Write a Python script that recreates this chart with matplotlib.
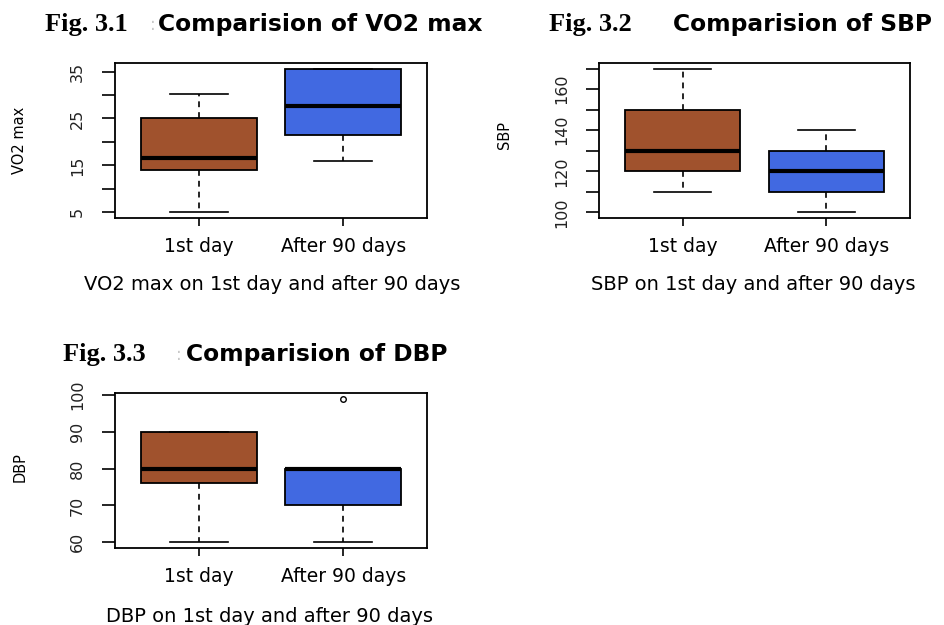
import matplotlib
matplotlib.use("Agg")
import matplotlib.pyplot as plt

# ---------------- data ----------------
groups = ["1st day", "After 90 days"]
colors = ["#A0522D", "#4169E1"]

vo2_whislo = [5, 16]
vo2_q1 = [14, 21.5]
vo2_med = [16.5, 27.7]
vo2_q3 = [25, 35.6]
vo2_whishi = [30.3, 35.6]
vo2_fliers = [[], []]

sbp_whislo = [110, 100]
sbp_q1 = [120, 110]
sbp_med = [130, 120]
sbp_q3 = [150, 130]
sbp_whishi = [170, 140]
sbp_fliers = [[], []]

dbp_whislo = [60, 60]
dbp_q1 = [76, 70]
dbp_med = [80, 80]
dbp_q3 = [90, 80]
dbp_whishi = [90, 80]
dbp_fliers = [[], [99]]

panels = [
    dict(fig="Fig. 3.1", title="Comparision of VO2 max", ylabel="VO2 max",
         xlabel="VO2 max on 1st day and after 90 days",
         lo=vo2_whislo, q1=vo2_q1, med=vo2_med, q3=vo2_q3, hi=vo2_whishi, fl=vo2_fliers,
         major=[5, 15, 25, 35], minor=[10, 20, 30]),
    dict(fig="Fig. 3.2", title="Comparision of SBP", ylabel="SBP",
         xlabel="SBP on 1st day and after 90 days",
         lo=sbp_whislo, q1=sbp_q1, med=sbp_med, q3=sbp_q3, hi=sbp_whishi, fl=sbp_fliers,
         major=[100, 120, 140, 160], minor=[110, 130, 150, 170]),
    dict(fig="Fig. 3.3", title="Comparision of DBP", ylabel="DBP",
         xlabel="DBP on 1st day and after 90 days",
         lo=dbp_whislo, q1=dbp_q1, med=dbp_med, q3=dbp_q3, hi=dbp_whishi, fl=dbp_fliers,
         major=[60, 70, 80, 90, 100], minor=[]),
]

# ---------------- layout (pixels) ----------------
W, H = 945, 625
fig = plt.figure(figsize=(W / 100, H / 100), dpi=100)
fig.patch.set_facecolor("white")

# axes boxes: left, right, top, bottom (px)
boxes = [(115, 427, 63, 218), (599, 910, 63, 218), (115, 427, 393, 548)]
# title positions: fig label x, colon x, comparision x, y center
titles = [(45, 150, 158, 25), (549, None, 673, 25), (63, 176, 186, 355)]
ylab_pos = [(20, 140), (505, 135), (20, 467)]
xlab_pos = [(272, 285), (753, 285), (270, 616)]


def fx(x):
    return x / W


def fy(y):
    return 1 - y / H


for p, (l, r, t, b), (figx, colx, tx, ty), (ylx, yly), (xlx, xly) in zip(
        panels, boxes, titles, ylab_pos, xlab_pos):
    ax = fig.add_axes([fx(l), fy(b), (r - l) / W, (b - t) / H])
    stats = []
    for i in range(2):
        stats.append(dict(med=p["med"][i], q1=p["q1"][i], q3=p["q3"][i],
                          whislo=p["lo"][i], whishi=p["hi"][i], fliers=p["fl"][i]))
    bp = ax.bxp(stats, positions=[1, 2], widths=0.8, capwidths=0.4,
                patch_artist=True, showfliers=True,
                boxprops=dict(edgecolor="black", linewidth=1.3),
                medianprops=dict(color="black", linewidth=3, solid_capstyle="butt"),
                whiskerprops=dict(color="black", linewidth=1.2, linestyle=(0, (3.5, 3))),
                capprops=dict(color="black", linewidth=1.2),
                flierprops=dict(marker="o", markerfacecolor="none",
                                markeredgecolor="black", markersize=4, markeredgewidth=1))
    for patch, c in zip(bp["boxes"], colors):
        patch.set_facecolor(c)

    allv = p["lo"] + p["hi"] + [v for f in p["fl"] for v in f]
    vmin, vmax = min(allv), max(allv)
    ext = 0.04 * (vmax - vmin)
    ax.set_ylim(vmin - ext, vmax + ext)
    ax.set_xlim(0.42, 2.58)

    ax.set_xticks([1, 2])
    ax.set_xticklabels(groups, fontsize=13.5, family="DejaVu Sans")
    ax.tick_params(axis="x", length=6, width=1.2, pad=8, direction="out")

    ax.set_yticks(p["major"])
    ax.set_yticks(p["minor"], minor=True)
    ax.set_yticklabels([str(v) for v in p["major"]], fontsize=11.5, color="#222222")
    ax.tick_params(axis="y", which="both", length=9.5, width=1.2, direction="out")
    ax.tick_params(axis="y", which="major", pad=12)
    for lab in ax.get_yticklabels():
        lab.set_rotation(90)
        lab.set_va("center")
        lab.set_ha("right")

    for s in ax.spines.values():
        s.set_linewidth(1.3)
        s.set_color("black")

    # titles
    fig.text(fx(figx), fy(ty), p["fig"], family="Liberation Serif", weight="bold",
             fontsize=19, ha="left", va="center")
    if colx is not None:
        fig.text(fx(colx), fy(ty), ":", fontsize=12, color="#c8c8c8", ha="left", va="center")
    fig.text(fx(tx), fy(ty), p["title"], family="DejaVu Sans", weight="bold",
             fontsize=16.8, ha="left", va="center")

    fig.text(fx(ylx), fy(yly), p["ylabel"], fontsize=10.5, rotation=90,
             ha="center", va="center")
    fig.text(fx(xlx), fy(xly), p["xlabel"], fontsize=14, ha="center", va="center")

fig.savefig("out.png", dpi=100, facecolor="white")
